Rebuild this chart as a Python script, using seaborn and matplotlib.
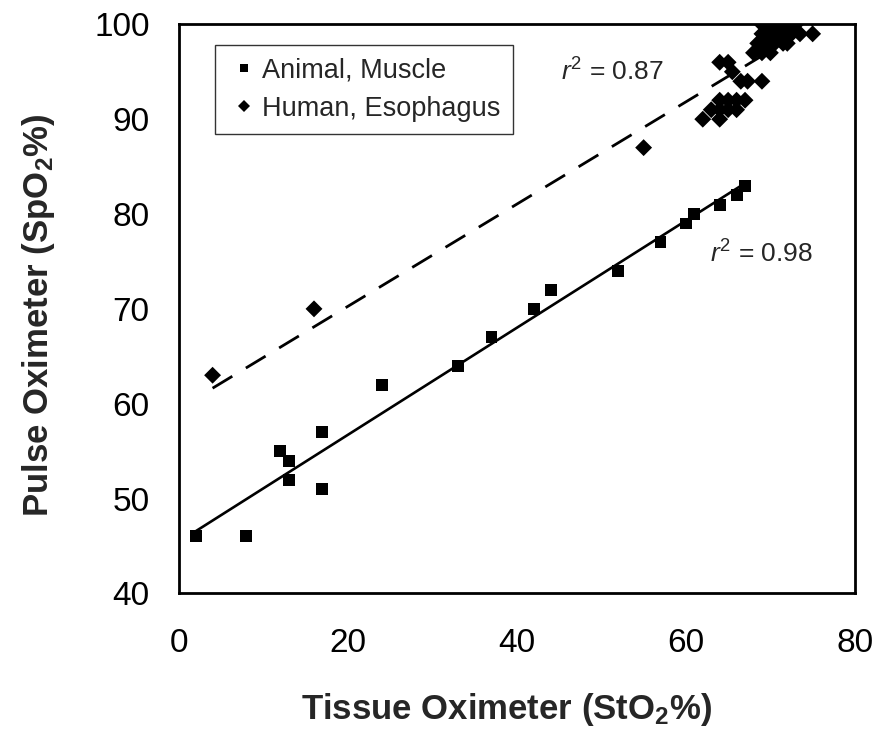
import matplotlib
matplotlib.use("Agg")
import matplotlib.pyplot as plt
import numpy as np
import pandas as pd
import seaborn as sns

# Animal, muscle (squares)
ANIMAL_STO2 = [2, 8, 12, 13, 13, 17, 17, 24, 33, 37, 42, 44, 52, 57, 60, 61, 64, 66, 67]
ANIMAL_SPO2 = [46, 46, 55, 54, 52, 57, 51, 62, 64, 67, 70, 72, 74, 77, 79, 80, 81, 82, 83]

# Human, esophagus (diamonds) - the top right cluster overlaps heavily
HUMAN_STO2 = [4, 16, 55,
              62, 63, 64, 64, 64, 65, 65, 66, 66, 67,
              64, 65, 65.5, 66.5, 67.3, 69,
              68, 69, 70, 68.5, 69.5, 70.5, 71.5, 72,
              69, 70, 71, 72, 73.5, 75, 70.5, 71.5, 72.5,
              69, 70, 71, 72, 73, 69.5, 70.5, 71.5, 72.5]
HUMAN_SPO2 = [63, 70, 87,
              90, 91, 90, 91, 92, 91, 92, 91, 92, 92,
              96, 96, 95, 94, 94, 94,
              97, 97, 97, 98, 98, 98, 98, 98,
              99, 99, 99, 99, 99, 99, 99, 99, 99,
              100, 100, 100, 100, 100, 100, 100, 100, 100]

GROUPS = ["Animal, Muscle", "Human, Esophagus"]
R2_TEXT = ["0.98", "0.87"]

sns.set_theme(style="white")
plt.rcParams["font.family"] = ["Liberation Sans", "DejaVu Sans"]
plt.rcParams["mathtext.fontset"] = "custom"
plt.rcParams["mathtext.rm"] = "Liberation Sans"
plt.rcParams["mathtext.it"] = "Liberation Sans:italic"
plt.rcParams["mathtext.bf"] = "Liberation Sans:bold"

df = pd.concat([
    pd.DataFrame({"sto2": ANIMAL_STO2, "spo2": ANIMAL_SPO2, "group": GROUPS[0]}),
    pd.DataFrame({"sto2": HUMAN_STO2, "spo2": HUMAN_SPO2, "group": GROUPS[1]}),
], ignore_index=True)

fig = plt.figure(figsize=(8.85, 7.38), dpi=100)
ax = fig.add_axes([0.202, 0.196, 0.764, 0.771])

sns.regplot(data=df[df["group"] == GROUPS[0]], x="sto2", y="spo2", scatter=False,
            ci=None, ax=ax, line_kws={"color": "black", "lw": 1.9})
sns.regplot(data=df[df["group"] == GROUPS[1]], x="sto2", y="spo2", scatter=False,
            ci=None, ax=ax, line_kws={"color": "black", "lw": 2.0,
                                       "linestyle": (0, (8.3, 5.7))})

sns.scatterplot(
    data=df, x="sto2", y="spo2", style="group", hue="group",
    markers={GROUPS[0]: "s", GROUPS[1]: "D"},
    palette={GROUPS[0]: "black", GROUPS[1]: "black"},
    s=74, linewidth=0, ax=ax, zorder=3,
)

ax.set_xlim(0, 80)
ax.set_ylim(40, 100)
ax.set_xticks(np.arange(0, 81, 20))
ax.set_yticks(np.arange(40, 101, 10))
ax.tick_params(axis="both", direction="in", length=10, width=2.0,
               labelsize=24, colors="black")
ax.tick_params(axis="x", pad=25)
ax.tick_params(axis="y", pad=21)
for sp in ax.spines.values():
    sp.set_color("black")
    sp.set_linewidth(2.0)

ax.set_xlabel(r"Tissue Oximeter (StO$_\mathbf{2}$%)", fontsize=25,
              fontweight="bold")
ax.set_ylabel(r"Pulse Oximeter (SpO$_\mathbf{2}$%)", fontsize=25,
              fontweight="bold")
ax.xaxis.set_label_coords(0.484, -0.172)
ax.yaxis.set_label_coords(-0.180, 0.489)

ax.text(62.8, 75.8, r"$r^2$ = " + R2_TEXT[0], fontsize=19, ha="left", va="center")
ax.text(45.2, 95.0, r"$r^2$ = " + R2_TEXT[1], fontsize=19, ha="left", va="center")

leg = ax.legend(loc="upper left", bbox_to_anchor=(0.053, 0.963), borderaxespad=0,
                fontsize=19.5, markerscale=0.75, handletextpad=0.0,
                handlelength=1.3, frameon=True, fancybox=False,
                edgecolor="black", borderpad=0.45, labelspacing=0.45, title=None)
leg.get_frame().set_linewidth(1.0)

fig.savefig("out.png", dpi=100)
